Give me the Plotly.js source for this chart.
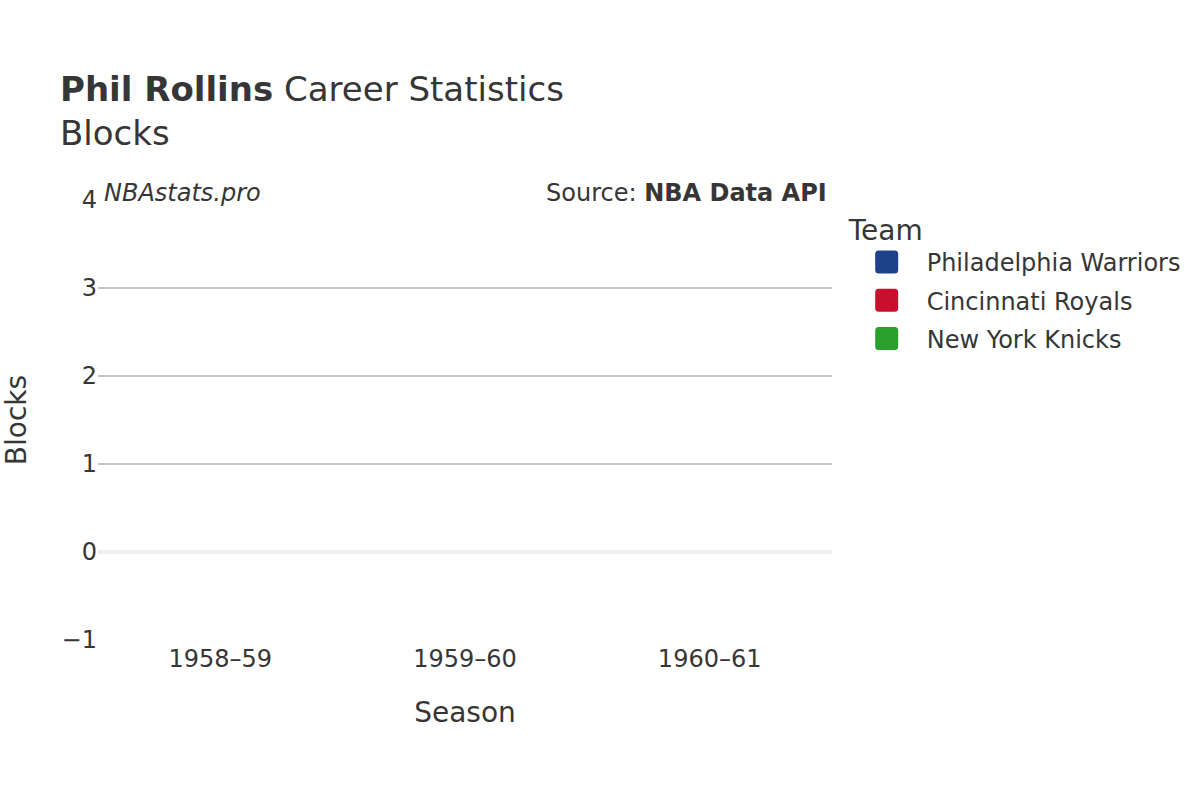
<!DOCTYPE html>
<html>
<head>
<meta charset="utf-8">
<script src="https://cdn.plot.ly/plotly-3.0.1.min.js"></script>
<style>
body { margin: 0; }
#plot { width: 1200px; height: 800px; }
/* larger rounded legend swatches */
#plot .legendpoints path {
    d: path("M8,11.5H-8A3.5,3.5 0 0 1 -11.5,8V-8A3.5,3.5 0 0 1 -8,-11.5H8A3.5,3.5 0 0 1 11.5,-8V8A3.5,3.5 0 0 1 8,11.5Z");
    stroke-width: 0 !important;
}
</style>
</head>
<body>
<div id="plot"></div>
<script>
const seasons = ["1958–59", "1959–60", "1960–61"]
const teams = ["Philadelphia Warriors", "Cincinnati Royals", "New York Knicks"]
const team_colors = ["#1d428a", "#c8102e", "#2ca02c"]
const team_seasons = [["1958–59"], ["1959–60"], ["1960–61"]]
const team_blocks = [[0], [0], [0]]

const font_family = "DejaVu Sans, sans-serif"
const text_color = "#363636"

let data = []
for (let i = 0; i < teams.length; i++) {
    data.push({type: "bar", name: teams[i], x: team_seasons[i], y: team_blocks[i], legendgroup: teams[i],
               marker: {color: team_colors[i]}})
}

const layout = {
    width: 1200, height: 800,
    font: {family: font_family, color: text_color, size: 24},
    title: {text: "<b>Phil Rollins</b> Career Statistics<br>Blocks", x: 0.05, xanchor: "left",
            y: 0.874, yanchor: "top", font: {size: 34}},
    margin: {l: 98, r: 368, t: 200, b: 160},
    xaxis: {title: {text: "Season", font: {size: 28}, standoff: 30}, categoryorder: "array", categoryarray: seasons,
            tickfont: {size: 24}, showgrid: false, ticklabelstandoff: 2},
    yaxis: {title: {text: "Blocks", font: {size: 28}, standoff: 30}, range: [-1, 4], dtick: 1,
            tickfont: {size: 24}, gridcolor: "#c4c4c4", gridwidth: 1.5, zeroline: true,
            zerolinecolor: "#eeeeee", zerolinewidth: 4},
    legend: {title: {text: "Team", font: {size: 28}}, font: {size: 24}, itemwidth: 70, tracegroupgap: 4,
             y: 0.992},
    plot_bgcolor: "white", paper_bgcolor: "white",
    barmode: "group",
    annotations: [
        {text: "<i>NBAstats.pro</i>", xref: "paper", yref: "paper", x: 0, y: 1, xanchor: "left",
         yanchor: "bottom", showarrow: false, font: {size: 24}, xshift: 4, yshift: -9},
        {text: "Source: <b>NBA Data API</b>", xref: "paper", yref: "paper", x: 1, y: 1, xanchor: "right",
         yanchor: "bottom", showarrow: false, font: {size: 24}, xshift: -3, yshift: -9}
    ]
}

Plotly.newPlot(document.getElementById("plot"), data, layout, {displayModeBar: false})
</script>
</body>
</html>
